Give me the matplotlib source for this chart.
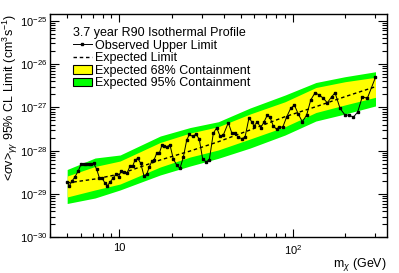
import matplotlib
matplotlib.use('Agg')
import matplotlib.pyplot as plt
from matplotlib.lines import Line2D
from matplotlib.patches import Patch
from matplotlib.ticker import FixedLocator, LogLocator, NullFormatter

plt.rcParams['font.family'] = ['Liberation Sans', 'DejaVu Sans']
plt.rcParams['mathtext.fontset'] = 'custom'
plt.rcParams['mathtext.rm'] = 'Liberation Sans'
plt.rcParams['mathtext.it'] = 'Liberation Sans:italic'
plt.rcParams['mathtext.bf'] = 'Liberation Sans:bold'

# ----- observed upper limit (GeV, cm^3 s^-1) -----
mass_obs = [5.0, 5.14, 5.35, 5.55, 5.80, 6.01, 6.23, 6.45, 6.68, 6.86,
            7.11, 7.40, 7.66, 7.94, 8.23, 8.52, 8.87, 9.23, 9.56, 9.91,
            10.26, 10.64, 11.07, 11.52, 11.94, 12.31, 12.76, 13.28, 13.87, 14.38,
            14.89, 15.43, 15.84, 16.42, 17.0, 17.6, 18.09, 18.75, 19.59, 20.47,
            21.41, 22.37, 23.37, 24.46, 25.32, 26.49, 27.67, 28.91, 30.24, 31.60,
            33.01, 34.81, 36.41, 38.05, 39.76, 42.49, 44.45, 46.44, 48.52, 50.76,
            53.04, 55.93, 57.97, 59.77, 62.45, 65.33, 68.26, 71.32, 73.91, 77.22,
            80.78, 83.62, 87.5, 92.3, 97.3, 102.1, 107.6, 113.5, 120.3, 126.9,
            134.4, 142.3, 150.1, 158.2, 167.8, 175.3, 187.3, 200.1, 211.9, 223.4,
            236.8, 251.8, 269.1, 300.0]
limit_obs = [1.92e-29, 1.53e-29, 2.03e-29, 2.51e-29, 3.45e-29, 4.85e-29, 5.01e-29, 5.0e-29, 5.0e-29, 4.85e-29,
             5.12e-29, 3.72e-29, 2.38e-29, 2.38e-29, 1.82e-29, 1.55e-29, 1.92e-29, 2.38e-29, 2.85e-29, 2.51e-29,
             3.45e-29, 3.17e-29, 3.05e-29, 4.43e-29, 4.43e-29, 6.10e-29, 6.67e-29, 5.12e-29, 2.60e-29, 2.85e-29,
             4.27e-29, 5.78e-29, 6.10e-29, 8.71e-29, 8.71e-29, 1.35e-28, 1.30e-28, 1.24e-28, 1.35e-28, 6.43e-29,
             4.67e-29, 3.92e-29, 7.04e-29, 1.77e-28, 2.37e-28, 2.13e-28, 2.43e-28, 1.83e-28, 6.33e-29, 5.57e-29,
             6.10e-29, 2.52e-28, 3.40e-28, 2.18e-28, 2.30e-28, 4.43e-28, 2.61e-28, 2.50e-28, 2.04e-28, 1.91e-28,
             2.04e-28, 5.78e-28, 4.67e-28, 3.72e-28, 4.67e-28, 3.40e-28, 4.60e-28, 6.67e-28, 5.91e-28, 3.72e-28,
             3.12e-28, 3.58e-28, 3.47e-28, 6.10e-28, 9.53e-28, 1.14e-27, 7.04e-28, 4.67e-28, 6.67e-28, 1.48e-27,
             2.18e-27, 1.93e-27, 1.62e-27, 1.28e-27, 1.77e-27, 2.18e-27, 9.53e-28, 6.67e-28, 6.67e-28, 5.91e-28,
             7.83e-28, 1.77e-27, 1.62e-27, 4.96e-27]

# ----- expected limit and containment bands -----
mass_band = [5.0, 7.24, 10.1, 17.2, 25.6, 37.2, 56.7, 90.2, 136.0, 200.0, 300.0]
exp_limit = [1.80e-29, 2.22e-29, 2.90e-29, 6.10e-29, 9.84e-29, 1.61e-28, 3.01e-28, 6.10e-28, 1.04e-27, 1.77e-27, 3.01e-27]
lo68 = [8.53e-30, 1.24e-29, 1.70e-29, 4.20e-29, 7.15e-29, 1.04e-28, 1.86e-28, 3.58e-28, 7.62e-28, 1.14e-27, 1.71e-27]
hi68 = [2.60e-29, 4.32e-29, 5.78e-29, 1.55e-28, 2.56e-28, 3.58e-28, 7.04e-28, 1.35e-27, 2.88e-27, 3.92e-27, 4.96e-27]
lo95 = [6.03e-30, 8.08e-30, 1.24e-29, 2.75e-29, 4.43e-29, 6.67e-29, 1.15e-28, 2.30e-28, 4.85e-28, 7.04e-28, 1.08e-27]
hi95 = [3.68e-29, 6.78e-29, 7.96e-29, 2.18e-28, 3.43e-28, 4.67e-28, 9.68e-28, 1.93e-27, 3.76e-27, 5.12e-27, 6.67e-27]

yticks = [1e-30, 1e-29, 1e-28, 1e-27, 1e-26, 1e-25]
ytick_labels = ['$10^{-30}$', '$10^{-29}$', '$10^{-28}$', '$10^{-27}$', '$10^{-26}$', '$10^{-25}$']
xticks = [10, 100]
xtick_labels = ['10', '$10^{2}$']

fig = plt.figure(figsize=(3.99, 2.73), dpi=100)
ax = fig.add_axes([0.1253, 0.1308, 0.8438, 0.8197])

ax.fill_between(mass_band, lo95, hi95, color='#00ff00', lw=0, zorder=1)
ax.fill_between(mass_band, lo68, hi68, color='#ffff00', lw=0, zorder=2)
ax.plot(mass_band, exp_limit, color='k', lw=1.0, ls=(0, (2.5, 2)), zorder=3)
ax.plot(mass_obs, limit_obs, color='k', lw=0.7, marker='s', ms=2.0, zorder=4)

ax.set_xscale('log')
ax.set_yscale('log')
ax.set_xlim(3.98, 348)
ax.set_ylim(1e-30, 1.476e-25)

ax.xaxis.set_major_locator(FixedLocator(xticks))
ax.set_xticklabels(xtick_labels)
ax.xaxis.set_minor_locator(LogLocator(base=10, subs=range(2, 10), numticks=20))
ax.xaxis.set_minor_formatter(NullFormatter())
ax.yaxis.set_major_locator(FixedLocator(yticks))
ax.set_yticklabels(ytick_labels)
ax.yaxis.set_minor_locator(LogLocator(base=10, subs=range(2, 10), numticks=20))
ax.yaxis.set_minor_formatter(NullFormatter())

ax.tick_params(which='both', direction='in', top=True, right=True, width=0.8, labelsize=8)
ax.tick_params(axis='y', which='major', length=6.5, pad=2)
ax.tick_params(axis='y', which='minor', length=3.5)
ax.tick_params(axis='x', which='major', length=5.5, pad=4)
ax.tick_params(axis='x', which='minor', length=3)
for s in ax.spines.values():
    s.set_linewidth(1.0)

ax.set_ylabel(r'<$\sigma$v>$_{\gamma\gamma}$ 95% CL Limit (cm$^{3}$s$^{-1}$)', fontsize=9, loc='top')
ax.yaxis.set_label_coords(-0.089, 1.0)
ax.set_xlabel(r'm$_{\chi}$ (GeV)', fontsize=9, loc='right')
ax.xaxis.set_label_coords(1.0, -0.085)

handles = [Line2D([], [], color='k', lw=0.7, marker='s', ms=2.0),
           Line2D([], [], color='k', lw=1.0, ls=(0, (2.5, 2))),
           Patch(facecolor='#ffff00', edgecolor='k', lw=0.8),
           Patch(facecolor='#00ff00', edgecolor='k', lw=0.8)]
labels = ['Observed Upper Limit', 'Expected Limit', 'Expected 68% Containment', 'Expected 95% Containment']
leg = ax.legend(handles, labels, loc='upper left', bbox_to_anchor=(0.068, 0.94), frameon=False,
                fontsize=9, title='3.7 year R90 Isothermal Profile', title_fontsize=9,
                alignment='left', handlelength=1.5, handleheight=0.7, handletextpad=0.25,
                labelspacing=0.05, borderpad=0, borderaxespad=0)

fig.savefig('out.png', dpi=100)
